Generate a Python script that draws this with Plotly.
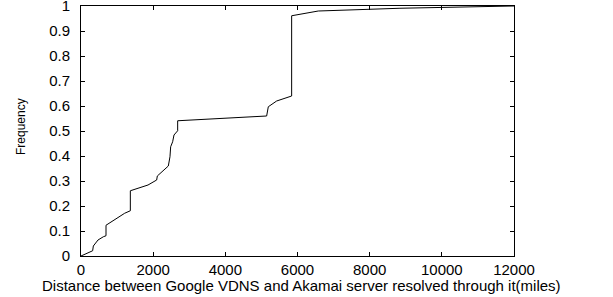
import plotly.graph_objects as go

distance_miles = [0, 323, 342, 471, 619, 693, 693, 840, 1025, 1210, 1367, 1367, 1857,
                  2097, 2115, 2281, 2420, 2466, 2485, 2540, 2577, 2679, 2679,
                  5145, 5191, 5422, 5838, 5838, 6576, 8840, 10000, 11800, 12000]
frequency = [0, 0.021, 0.04, 0.064, 0.077, 0.081, 0.123, 0.137, 0.153, 0.171, 0.181, 0.261, 0.284,
             0.304, 0.32, 0.344, 0.36, 0.397, 0.437, 0.457, 0.484, 0.501, 0.541,
             0.56, 0.597, 0.62, 0.64, 0.961, 0.98, 0.991, 0.995, 1.0, 1.0]

x_ticks = [0, 2000, 4000, 6000, 8000, 10000, 12000]
y_ticks = [0, 0.1, 0.2, 0.3, 0.4, 0.5, 0.6, 0.7, 0.8, 0.9, 1]
y_tick_labels = ["0", "0.1", "0.2", "0.3", "0.4", "0.5", "0.6", "0.7", "0.8", "0.9", "1"]
x_title = "Distance between Google VDNS and Akamai server resolved through it(miles)"
y_title = "Frequency"

fig = go.Figure()
fig.add_trace(go.Scatter(x=distance_miles, y=frequency, mode="lines",
                         line=dict(color="black", width=1), showlegend=False,
                         cliponaxis=False))

font = dict(family="Liberation Sans, Arial, sans-serif", color="black")
fig.update_layout(
    width=613, height=297,
    margin=dict(l=81, r=99, t=6, b=41),
    paper_bgcolor="white", plot_bgcolor="white",
    font=dict(**font, size=15),
)
fig.update_xaxes(range=[0, 12000], tickvals=x_ticks, ticktext=[str(v) for v in x_ticks],
                 ticks="inside", ticklen=4, tickcolor="black", showline=True, linecolor="black",
                 linewidth=1, mirror="ticks", showgrid=False, zeroline=False,
                 tickfont=dict(size=15), ticklabelstandoff=0, automargin=False,
                 ticklabeloverflow="allow")
fig.update_yaxes(range=[0, 1], tickvals=y_ticks, ticktext=y_tick_labels,
                 ticks="inside", ticklen=4, tickcolor="black", showline=True, linecolor="black",
                 linewidth=1, mirror="ticks", showgrid=False, zeroline=False,
                 tickfont=dict(size=15), ticklabelstandoff=7, automargin=False,
                 ticklabeloverflow="allow")

fig.add_annotation(text=x_title, xref="paper", yref="paper", x=0.5, y=(256 - 285) / 250,
                   xanchor="center", yanchor="middle", showarrow=False, xshift=4,
                   font=dict(**font, size=15))
fig.add_annotation(text=y_title, xref="paper", yref="paper", x=(21 - 81) / 433, y=(256 - 127) / 250,
                   xanchor="center", yanchor="middle", showarrow=False, textangle=-90,
                   font=dict(**font, size=12))

fig.write_html("out.html", config={"displayModeBar": False},
               post_script="document.body.style.margin='0';document.body.style.overflow='hidden';")
